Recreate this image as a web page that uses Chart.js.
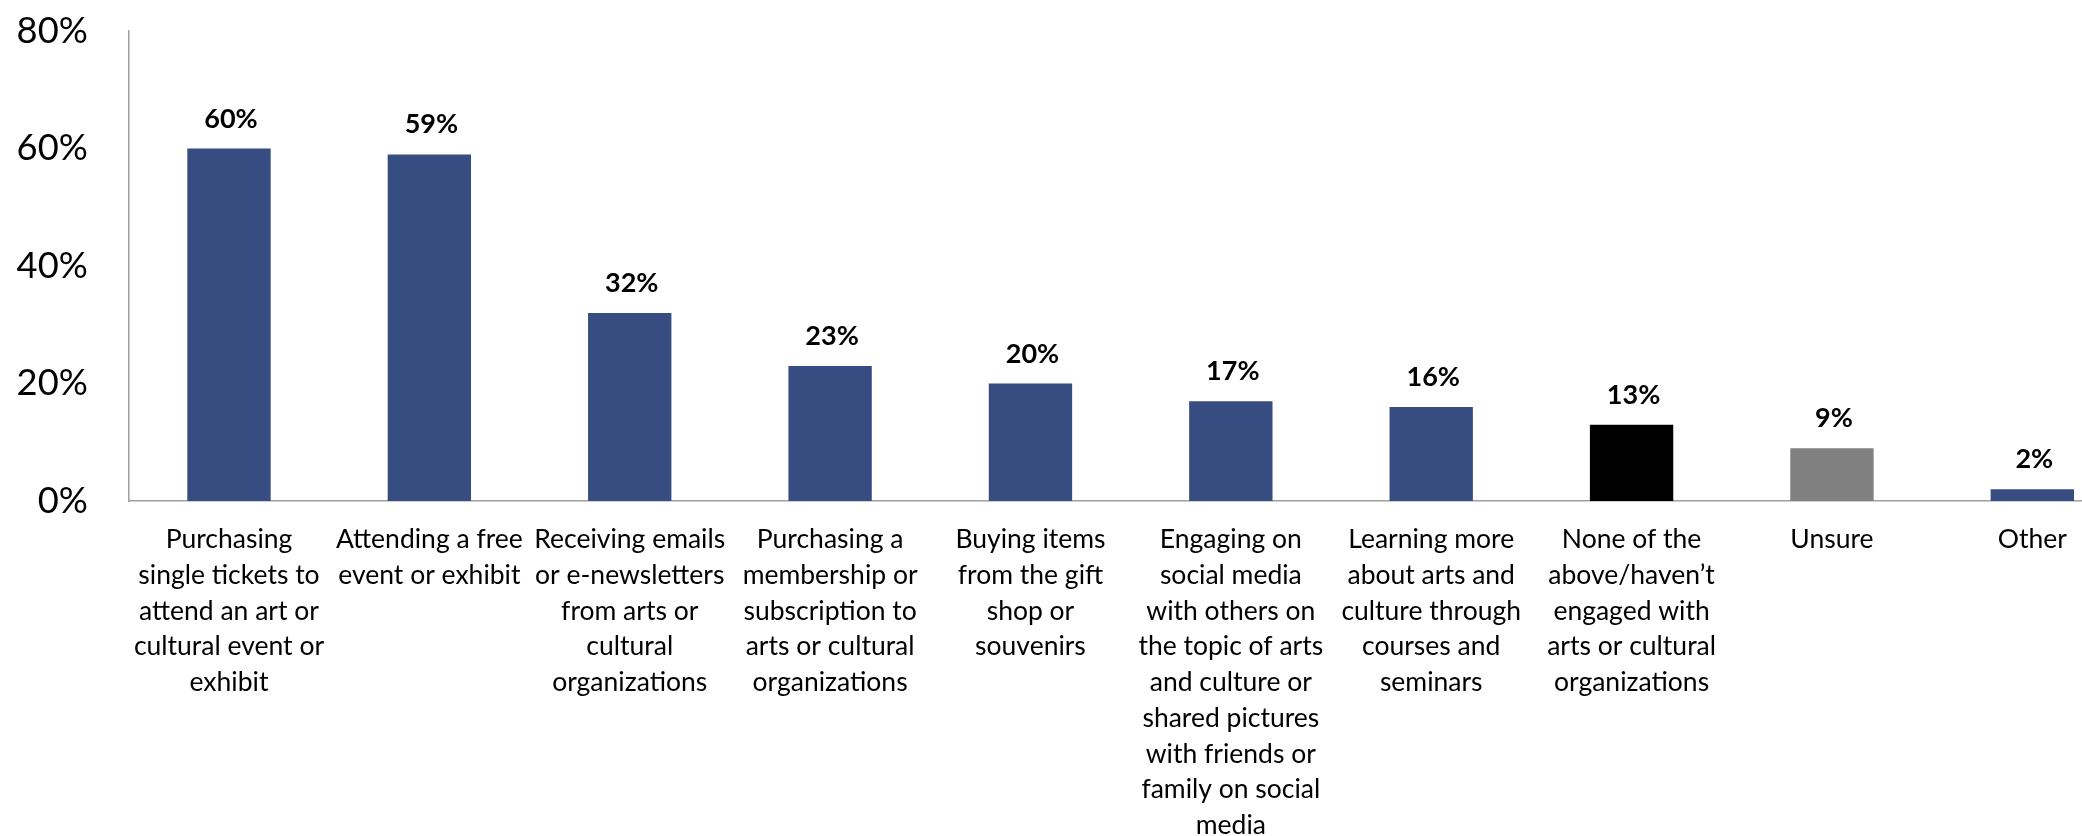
<!DOCTYPE html>
<html>
<head>
<meta charset="utf-8">
<script src="https://cdn.jsdelivr.net/npm/chart.js@4/dist/chart.umd.min.js"></script>
<style>
  html, body { margin: 0; padding: 0; background: #ffffff; overflow: hidden; }
  #wrap { position: absolute; left: 0; top: 0; width: 2140px; height: 900px; }
</style>
</head>
<body>
<div id="wrap"><canvas id="chart" width="2140" height="900"></canvas></div>
<script>
// Ways people engaged with arts and cultural organizations (share of respondents, %)
const categories = [
  ["Purchasing", "single tickets to", "attend an art or", "cultural event or", "exhibit"],
  ["Attending a free", "event or exhibit"],
  ["Receiving emails", "or e-newsletters", "from arts or", "cultural", "organizations"],
  ["Purchasing a", "membership or", "subscription to", "arts or cultural", "organizations"],
  ["Buying items", "from the gift", "shop or", "souvenirs"],
  ["Engaging on", "social media", "with others on", "the topic of arts", "and culture or", "shared pictures", "with friends or", "family on social", "media"],
  ["Learning more", "about arts and", "culture through", "courses and", "seminars"],
  ["None of the", "above/haven\u2019t", "engaged with", "arts or cultural", "organizations"],
  ["Unsure"],
  ["Other"]
];
const values = [60, 59, 32, 23, 20, 17, 16, 13, 9, 2];
const yTicks = [0, 20, 40, 60, 80];

// Bar fills: engagement types in navy, "none" in black, "unsure" in grey
const NAVY = '#374C80', BLACK = '#000000', GREY = '#808080';
const barColors = categories.map((c, i) => i === 7 ? BLACK : (i === 8 ? GREY : NAVY));

const FONT = 'Lato, "Open Sans", sans-serif';
const AXIS_GREY = '#a0a0a0';

// Bold percentage above every bar
const valueLabels = {
  id: 'valueLabels',
  afterDatasetsDraw(chart) {
    const ctx = chart.ctx;
    const meta = chart.getDatasetMeta(0);
    ctx.save();
    ctx.font = 'bold 27px ' + FONT;
    ctx.fillStyle = '#000000';
    ctx.textAlign = 'center';
    ctx.textBaseline = 'alphabetic';
    meta.data.forEach((bar, i) => {
      ctx.fillText(values[i] + '%', bar.x + 2, bar.y - 21);
    });
    ctx.restore();
  }
};

new Chart(document.getElementById('chart'), {
  type: 'bar',
  data: {
    labels: categories,
    datasets: [{
      data: values,
      backgroundColor: barColors,
      borderWidth: 0,
      categoryPercentage: 1.0,
      barPercentage: 0.416
    }]
  },
  options: {
    responsive: false,
    animation: false,
    layout: { padding: { top: 31, right: 7.5, left: 0, bottom: 0 } },
    plugins: {
      legend: { display: false },
      tooltip: { enabled: false }
    },
    scales: {
      x: {
        grid: { display: false, drawTicks: false },
        border: { display: true, color: AXIS_GREY, width: 1.5 },
        ticks: {
          color: '#000000',
          font: { family: FONT, size: 26.5, lineHeight: 35.7 / 26.5 },
          padding: 21,
          maxRotation: 0,
          minRotation: 0,
          autoSkip: false
        },
        afterFit(scale) { scale.height = 900 - 501; }
      },
      y: {
        min: 0,
        max: 80,
        afterBuildTicks(scale) { scale.ticks = yTicks.map(v => ({ value: v })); },
        grid: { display: false, drawTicks: false },
        border: { display: true, color: AXIS_GREY, width: 1.5 },
        ticks: {
          color: '#000000',
          font: { family: FONT, size: 36.3 },
          padding: 41,
          callback: v => v + '%'
        },
        afterFit(scale) {
          scale.width = 128.8;
          scale.paddingTop = 0;
          scale.paddingBottom = 0;
        }
      }
    }
  },
  plugins: [valueLabels]
});
</script>
</body>
</html>
